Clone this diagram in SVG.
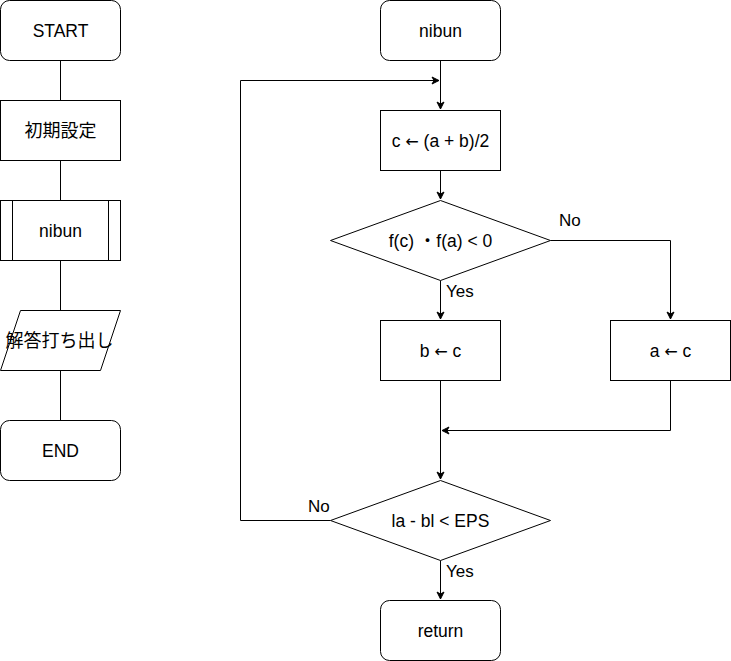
<svg xmlns="http://www.w3.org/2000/svg" width="731" height="661" viewBox="0 0 731 661">
<style>
.s{fill:#fff;stroke:#000;stroke-width:1}
.t{font-family:"Liberation Sans","Noto Sans CJK JP",Arial,sans-serif;font-size:17.5px;fill:#000;text-anchor:middle;dominant-baseline:central}
.j{font-size:18px}
.ar{font-family:"DejaVu Sans",sans-serif;font-size:16px}
.l{font-family:"Liberation Sans",Arial,sans-serif;font-size:17px;fill:#000}
.c{fill:none;stroke:#000;stroke-width:1}
</style>
<defs>
<marker id="a" markerWidth="10" markerHeight="10" refX="8" refY="5" orient="auto" markerUnits="userSpaceOnUse">
<path d="M1,1.5 L8,5 L1,8.5 L3,5 Z" fill="#000" stroke="#000" stroke-width="1"/>
</marker>
</defs>
<rect width="731" height="661" fill="#fff"/>
<g id="connectors">
<path class="c" d="M60.5,60.5 V100.5"/>
<path class="c" d="M60.5,160.5 V200.5"/>
<path class="c" d="M60.5,260.5 V310.5"/>
<path class="c" d="M60.5,370.5 V420.5"/>
<path class="c" d="M440.5,60.5 V109" marker-end="url(#a)"/>
<path class="c" d="M440.5,170.5 V199" marker-end="url(#a)"/>
<path class="c" d="M440.5,280.5 V319" marker-end="url(#a)"/>
<path class="c" d="M550.5,240.5 H670.5 V319" marker-end="url(#a)"/>
<path class="c" d="M440.5,380.5 V479" marker-end="url(#a)"/>
<path class="c" d="M670.5,380.5 V430.5 H442" marker-end="url(#a)"/>
<path class="c" d="M330.5,520.5 H240.5 V80.5 H439" marker-end="url(#a)"/>
<path class="c" d="M440.5,560.5 V599" marker-end="url(#a)"/>
<text class="l" x="446" y="297">Yes</text>
<text class="l" x="559" y="226">No</text>
<text class="l" x="308" y="512">No</text>
<text class="l" x="446" y="577">Yes</text>
</g>
<g id="start"><rect class="s" x="0.5" y="0.5" width="120" height="60" rx="9"/><text class="t" x="60.5" y="30.5">START</text></g>
<g id="init"><rect class="s" x="0.5" y="100.5" width="120" height="60"/><text class="t j" x="60.5" y="130.5">初期設定</text></g>
<g id="nibun-call"><rect class="s" x="0.5" y="200.5" width="120" height="60"/><path class="c" d="M12.5,200.5 V260.5 M108.5,200.5 V260.5"/><text class="t" x="60.5" y="230.5">nibun</text></g>
<g id="output"><path class="s" d="M20.5,310.5 H120.5 L100.5,370.5 H0.5 Z"/><text class="t j" x="59.5" y="340.5">解答打ち出し</text></g>
<g id="end"><rect class="s" x="0.5" y="420.5" width="120" height="60" rx="9"/><text class="t" x="60.5" y="450.5">END</text></g>
<g id="nibun"><rect class="s" x="380.5" y="0.5" width="120" height="60" rx="9"/><text class="t" x="440.5" y="30.5">nibun</text></g>
<g id="calc-c"><rect class="s" x="380.5" y="110.5" width="120" height="60"/><text class="t" x="440.5" y="140.5">c <tspan class="ar">←</tspan> (a + b)/2</text></g>
<g id="cond1"><path class="s" d="M440.5,200.5 L550.5,240.5 L440.5,280.5 L330.5,240.5 Z"/><text class="t" x="440.5" y="240.5">f(c) ・f(a) &lt; 0</text></g>
<g id="set-b"><rect class="s" x="380.5" y="320.5" width="120" height="60"/><text class="t" x="440.5" y="350.5">b <tspan class="ar">←</tspan> c</text></g>
<g id="set-a"><rect class="s" x="610.5" y="320.5" width="120" height="60"/><text class="t" x="670.5" y="350.5">a <tspan class="ar">←</tspan> c</text></g>
<g id="cond2"><path class="s" d="M440.5,480.5 L550.5,520.5 L440.5,560.5 L330.5,520.5 Z"/><text class="t" x="440.5" y="520.5">la - bl &lt; EPS</text></g>
<g id="return"><rect class="s" x="380.5" y="600.5" width="120" height="60" rx="9"/><text class="t" x="440.5" y="630.5">return</text></g>
</svg>
